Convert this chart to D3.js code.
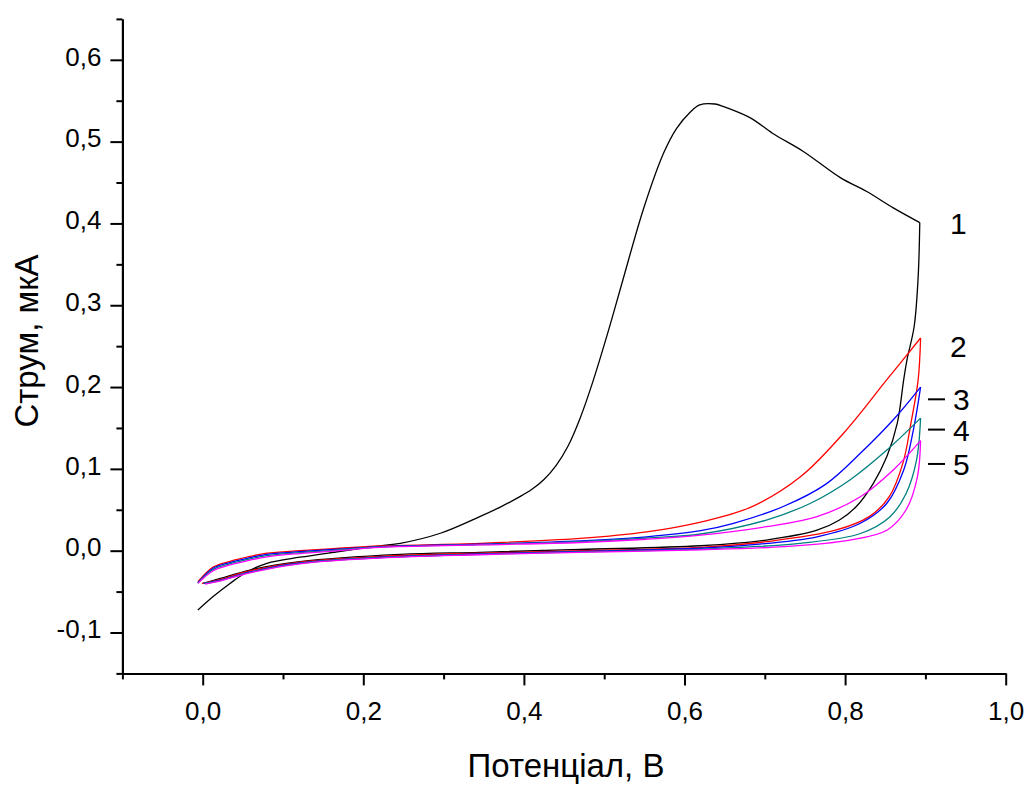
<!DOCTYPE html>
<html>
<head>
<meta charset="utf-8">
<script src="https://cdn.jsdelivr.net/npm/d3@7"></script>
<style>
  html, body { margin: 0; padding: 0; background: #fff; }
  svg { display: block; }
  text { font-family: "Liberation Sans", Arial, sans-serif; fill: #000; }
</style>
</head>
<body>
<svg id="chart" width="1028" height="788"></svg>
<script>
// ---- data (potential V, current uA): forward scan then reverse scan ----
const curve1 = [
  [-0.006,-0.0725],[0.013,-0.056],[0.034,-0.040],[0.055,-0.026],[0.080,-0.0154],[0.121,-0.008],
  [0.170,-0.001],[0.221,0.006],[0.246,0.009],[0.296,0.0213],[0.345,0.0416],[0.370,0.053],
  [0.395,0.066],[0.410,0.075],[0.425,0.087],[0.440,0.104],[0.455,0.128],[0.470,0.162],
  [0.486,0.207],[0.505,0.268],
  [0.523,0.330],[0.549,0.418],[0.574,0.486],[0.590,0.516],[0.607,0.536],[0.619,0.545],
  [0.638,0.546],[0.648,0.543],[0.682,0.529],[0.710,0.510],[0.748,0.488],[0.794,0.456],
  [0.827,0.439],[0.860,0.419],[0.893,0.401],
  [0.891,0.335],[0.886,0.274],[0.877,0.233],[0.873,0.209],[0.865,0.156],[0.852,0.115],
  [0.835,0.082],[0.814,0.054],[0.793,0.0375],[0.765,0.025],[0.702,0.013],[0.620,0.006],
  [0.470,0.0015],[0.345,-0.002],[0.246,-0.0045],[0.121,-0.0134],[0.059,-0.0237],
  [0.022,-0.034],[0.001,-0.040]
];
const curve2 = [
  [-0.006,-0.038],[0.013,-0.020],[0.034,-0.013],[0.059,-0.007],[0.080,-0.003],[0.121,0.000],
  [0.170,0.003],[0.221,0.0057],[0.345,0.009],[0.470,0.015],[0.553,0.023],[0.620,0.035],
  [0.682,0.053],[0.744,0.090],[0.798,0.1435],[0.852,0.209],[0.894,0.260],
  [0.891,0.209],[0.882,0.156],[0.872,0.107],[0.855,0.066],[0.830,0.0416],[0.788,0.025],
  [0.702,0.011],[0.620,0.004],[0.470,0.000],[0.345,-0.003],[0.221,-0.007],[0.121,-0.014],
  [0.059,-0.0245],[0.022,-0.035],[-0.001,-0.040]
];
const curve3 = [
  [-0.006,-0.039],[0.013,-0.0215],[0.034,-0.0145],[0.059,-0.0085],[0.080,-0.0045],[0.121,-0.0012],
  [0.170,0.002],[0.221,0.005],[0.345,0.008],[0.470,0.012],[0.553,0.017],[0.620,0.0245],
  [0.661,0.0335],[0.723,0.054],[0.777,0.082],[0.819,0.119],[0.860,0.160],[0.894,0.200],
  [0.885,0.1475],[0.873,0.0987],[0.852,0.058],[0.819,0.0335],[0.765,0.017],[0.682,0.007],
  [0.620,0.003],[0.470,-0.001],[0.345,-0.004],[0.221,-0.008],[0.121,-0.015],[0.059,-0.026],
  [0.022,-0.036],[0.001,-0.040]
];
const curve4 = [
  [-0.006,-0.0395],[0.013,-0.023],[0.034,-0.016],[0.059,-0.010],[0.080,-0.006],[0.121,-0.0025],
  [0.170,0.001],[0.221,0.0045],[0.345,0.0075],[0.470,0.011],[0.553,0.0155],[0.620,0.0204],
  [0.702,0.0375],[0.757,0.058],[0.806,0.0865],[0.852,0.123],[0.894,0.162],
  [0.889,0.111],[0.876,0.070],[0.856,0.0416],[0.819,0.021],[0.744,0.009],[0.620,0.002],
  [0.470,-0.0015],[0.345,-0.0045],[0.221,-0.0085],[0.121,-0.0155],[0.059,-0.0265],
  [0.022,-0.0365],[0.002,-0.040]
];
const curve5 = [
  [-0.006,-0.040],[0.013,-0.0245],[0.034,-0.0175],[0.059,-0.0115],[0.080,-0.0075],[0.121,-0.0035],
  [0.170,0.000],[0.221,0.004],[0.345,0.007],[0.470,0.010],[0.553,0.014],[0.620,0.019],
  [0.702,0.0293],[0.765,0.0416],[0.819,0.066],[0.860,0.0987],[0.894,0.1345],
  [0.890,0.090],[0.876,0.050],[0.852,0.025],[0.806,0.013],[0.723,0.005],[0.620,0.001],
  [0.470,-0.002],[0.345,-0.005],[0.221,-0.009],[0.121,-0.016],[0.059,-0.027],
  [0.022,-0.037],[0.003,-0.041]
];
const seriesNames = ["1","2","3","4","5"];
const seriesColors = ["#000000","#ff0000","#0000ff","#008080","#ff00ff"];
const xMajorTicks = [0.0,0.2,0.4,0.6,0.8,1.0];
const xMinorTicks = [-0.1,0.1,0.3,0.5,0.7,0.9];
const yMajorTicks = [-0.1,0.0,0.1,0.2,0.3,0.4,0.5,0.6];
const yMinorTicks = [-0.15,-0.05,0.05,0.15,0.25,0.35,0.45,0.55,0.65];
const xTitle = "Потенціал, В";
const yTitle = "Струм, мкА";
// label anchor values (y of label in data units) for series 1..5
const labelY = [0.4, 0.25, 0.185, 0.148, 0.106];
const labelDash = [false, false, true, true, true];

// ---- drawing ----
const svg = d3.select("#chart");
const x = d3.scaleLinear().domain([-0.1, 1.0]).range([122.4, 1005.7]);
const y = d3.scaleLinear().domain([-0.15, 0.65]).range([673.4, 18.9]);
const loc = d3.formatLocale({decimal: ",", thousands: " ", grouping: [3], currency: ["", ""], minus: "-"});
const fmt = loc.format(".1f");

const curves = [curve1, curve2, curve3, curve4, curve5];
const line = d3.line().x(d => x(d[0])).y(d => y(d[1])).curve(d3.curveCatmullRom.alpha(0.5));
curves.forEach((c, i) => {
  // split at the vertex potential so the turning point stays sharp
  let k = d3.maxIndex(c, d => d[0]);
  const halves = [c.slice(0, k + 1), c.slice(k)];
  halves.forEach(h => {
    svg.append("path").datum(h).attr("d", line)
      .attr("fill", "none").attr("stroke", seriesColors[i]).attr("stroke-width", 1.3)
      .attr("stroke-linejoin", "round");
  });
});

// axes
function styleAxis(g) {
  g.select(".domain").attr("stroke", "#000").attr("stroke-width", 2);
  g.selectAll(".tick line").attr("stroke", "#000").attr("stroke-width", 2);
  g.selectAll("text").style("font-family", "'Liberation Sans', Arial, sans-serif").attr("font-size", 26).attr("fill", "#000");
}
const xAxisY = y(-0.15);
const gxMinor = svg.append("g").attr("transform", `translate(0,${xAxisY})`)
  .call(d3.axisBottom(x).tickValues(xMinorTicks).tickSize(6).tickSizeOuter(0).tickFormat(""));
styleAxis(gxMinor);
const gx = svg.append("g").attr("transform", `translate(0,${xAxisY})`)
  .call(d3.axisBottom(x).tickValues(xMajorTicks).tickSize(12).tickSizeOuter(0).tickPadding(16).tickFormat(fmt));
styleAxis(gx);

const yAxisX = x(-0.1);
const gyMinor = svg.append("g").attr("transform", `translate(${yAxisX},0)`)
  .call(d3.axisLeft(y).tickValues(yMinorTicks).tickSize(6).tickSizeOuter(0).tickFormat(""));
styleAxis(gyMinor);
const gy = svg.append("g").attr("transform", `translate(${yAxisX},0)`)
  .call(d3.axisLeft(y).tickValues(yMajorTicks).tickSize(12).tickSizeOuter(0).tickPadding(9).tickFormat(fmt));
styleAxis(gy);
gy.selectAll("text").attr("dy", "0.2em");

// titles
svg.append("text").attr("x", 566).attr("y", 777).attr("text-anchor", "middle")
  .attr("font-size", 33).text(xTitle);
svg.append("text").attr("transform", "translate(38,341) rotate(-90)").attr("text-anchor", "middle")
  .attr("font-size", 33).text(yTitle);

// series labels
seriesNames.forEach((n, i) => {
  const ly = y(labelY[i]);
  svg.append("text").attr("x", labelDash[i] ? 953 : 950).attr("y", ly + 11)
    .attr("font-size", 30).text(n);
  if (labelDash[i]) {
    svg.append("line").attr("x1", 928).attr("x2", 945).attr("y1", ly).attr("y2", ly)
      .attr("stroke", "#000").attr("stroke-width", 2);
  }
});
</script>
</body>
</html>
